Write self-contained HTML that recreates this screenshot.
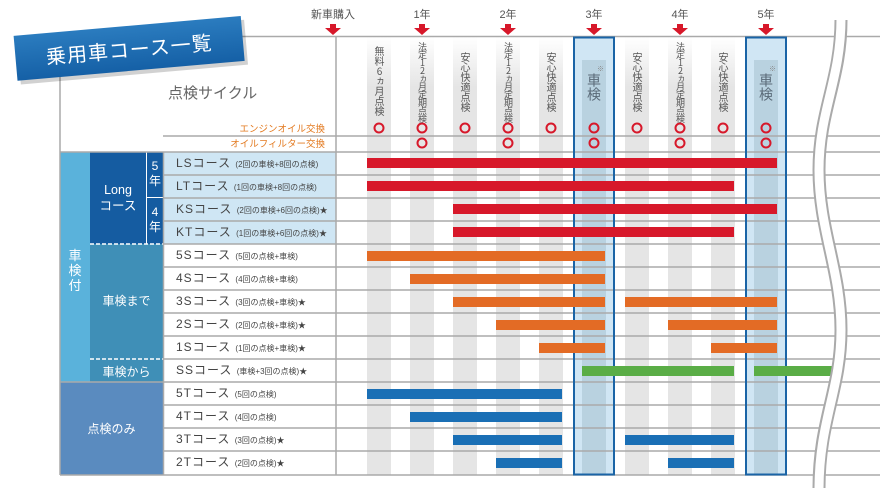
<!DOCTYPE html>
<html><head><meta charset="utf-8"><style>
*{margin:0;padding:0;box-sizing:border-box}
body{width:880px;height:488px;background:#fff;position:relative;overflow:hidden;font-family:"Liberation Sans","Noto Sans CJK JP",sans-serif;color:#555}
svg{position:absolute;left:0;top:0}
.a{position:absolute;white-space:nowrap}
.v{position:absolute;writing-mode:vertical-rl;text-orientation:upright;font-size:10px;color:#555;line-height:10px;font-family:"Noto Sans CJK JP",sans-serif}
.n{font-size:9px;letter-spacing:-1px}
.c{position:absolute;left:176px;font-size:12px;color:#444;line-height:23px;letter-spacing:1px}
.c small{font-size:8px;letter-spacing:0}
.w{position:absolute;color:#fff;text-align:center;font-size:11.5px}
</style></head><body>
<svg width="880" height="488">
<defs>
<linearGradient id="st" x1="0" y1="0" x2="0" y2="1"><stop offset="0" stop-color="#fff"/><stop offset="1" stop-color="#e5e5e5"/></linearGradient>
<linearGradient id="bn" x1="0" y1="0" x2="0" y2="1"><stop offset="0" stop-color="#2b7cbf"/><stop offset="1" stop-color="#1560a6"/></linearGradient>
</defs>
<rect x="164" y="152" width="172" height="92" fill="#cfe6f4"/>
<rect x="60" y="152" width="30" height="230" fill="#5ab2db"/>
<rect x="90" y="152" width="56" height="92" fill="#155ca1"/>
<rect x="147" y="152" width="16" height="45" fill="#155ca1"/>
<rect x="147" y="198" width="16" height="46" fill="#155ca1"/>
<rect x="90" y="244" width="73" height="138" fill="#3f8fb7"/>
<rect x="60" y="382" width="103" height="93" fill="#5a8bbf"/>
<line x1="90" y1="244" x2="163" y2="244" stroke="#fff" stroke-width="1.5" stroke-dasharray="4,2"/>
<line x1="90" y1="359" x2="163" y2="359" stroke="#fff" stroke-width="1.5" stroke-dasharray="4,2"/>
<g fill="url(#st)">
<rect x="367" y="37" width="24" height="50"/><rect x="410" y="37" width="24" height="50"/><rect x="453" y="37" width="24" height="50"/><rect x="496" y="37" width="24" height="50"/><rect x="539" y="37" width="24" height="50"/><rect x="625" y="37" width="24" height="50"/><rect x="668" y="37" width="24" height="50"/><rect x="711" y="37" width="24" height="50"/>
</g>
<g fill="#e5e5e5">
<rect x="367" y="87" width="24" height="388"/><rect x="410" y="87" width="24" height="388"/><rect x="453" y="87" width="24" height="388"/><rect x="496" y="87" width="24" height="388"/><rect x="539" y="87" width="24" height="388"/><rect x="625" y="87" width="24" height="388"/><rect x="668" y="87" width="24" height="388"/><rect x="711" y="87" width="24" height="388"/>
</g>
<rect x="574" y="37" width="40" height="438" fill="#d0e6f4"/>
<rect x="582" y="60" width="24" height="415" fill="#b9d2e0"/>
<rect x="746" y="37" width="40" height="438" fill="#d0e6f4"/>
<rect x="754" y="60" width="24" height="415" fill="#b9d2e0"/>
<g stroke="#aaa" stroke-width="1.5">
<line x1="60" y1="36.5" x2="880" y2="36.5"/>
<line x1="163" y1="136" x2="880" y2="136"/>
<line x1="60" y1="152" x2="880" y2="152"/>
<line x1="164" y1="175" x2="880" y2="175"/>
<line x1="164" y1="198" x2="880" y2="198"/>
<line x1="164" y1="221" x2="880" y2="221"/>
<line x1="164" y1="244" x2="880" y2="244"/>
<line x1="164" y1="267" x2="880" y2="267"/>
<line x1="164" y1="290" x2="880" y2="290"/>
<line x1="164" y1="313" x2="880" y2="313"/>
<line x1="164" y1="336" x2="880" y2="336"/>
<line x1="164" y1="359" x2="880" y2="359"/>
<line x1="60" y1="382" x2="880" y2="382"/>
<line x1="164" y1="405" x2="880" y2="405"/>
<line x1="164" y1="428" x2="880" y2="428"/>
<line x1="164" y1="451" x2="880" y2="451"/>
<line x1="60" y1="475" x2="880" y2="475"/>
<line x1="60" y1="36" x2="60" y2="475"/>
<line x1="336" y1="36" x2="336" y2="475"/>
<line x1="163.5" y1="152" x2="163.5" y2="475"/>
</g>
<rect x="574" y="37.5" width="40" height="437" fill="none" stroke="#1a64a6" stroke-width="2"/>
<rect x="746" y="37.5" width="40" height="437" fill="none" stroke="#1a64a6" stroke-width="2"/>
<g fill="none" stroke="#d7182a" stroke-width="2">
<circle cx="379" cy="128" r="4.5"/><circle cx="422" cy="128" r="4.5"/><circle cx="465" cy="128" r="4.5"/><circle cx="508" cy="128" r="4.5"/><circle cx="551" cy="128" r="4.5"/><circle cx="594" cy="128" r="4.5"/><circle cx="637" cy="128" r="4.5"/><circle cx="680" cy="128" r="4.5"/><circle cx="723" cy="128" r="4.5"/><circle cx="766" cy="128" r="4.5"/>
<circle cx="422" cy="143" r="4.5"/><circle cx="508" cy="143" r="4.5"/><circle cx="594" cy="143" r="4.5"/><circle cx="680" cy="143" r="4.5"/><circle cx="766" cy="143" r="4.5"/>
</g>
<g fill="#d7182a">
<path d="M330,24h6v4h5l-8,7l-8,-7h5z"/>
<path d="M419,24h6v4h5l-8,7l-8,-7h5z"/>
<path d="M505,24h6v4h5l-8,7l-8,-7h5z"/>
<path d="M591,24h6v4h5l-8,7l-8,-7h5z"/>
<path d="M677,24h6v4h5l-8,7l-8,-7h5z"/>
<path d="M763,24h6v4h5l-8,7l-8,-7h5z"/>
</g>
<g fill="#d7182a">
<rect x="367" y="158" width="410" height="10"/>
<rect x="367" y="181" width="367" height="10"/>
<rect x="453" y="204" width="324" height="10"/>
<rect x="453" y="227" width="281" height="10"/>
</g>
<g fill="#e36b25">
<rect x="367" y="251" width="238" height="10"/>
<rect x="410" y="274" width="195" height="10"/>
<rect x="453" y="297" width="152" height="10"/><rect x="625" y="297" width="152" height="10"/>
<rect x="496" y="320" width="109" height="10"/><rect x="668" y="320" width="109" height="10"/>
<rect x="539" y="343" width="66" height="10"/><rect x="711" y="343" width="66" height="10"/>
</g>
<g fill="#5aad46">
<rect x="582" y="366" width="152" height="10"/><rect x="754" y="366" width="78" height="10"/>
</g>
<g fill="#1a6fb5">
<rect x="367" y="389" width="195" height="10"/>
<rect x="410" y="412" width="152" height="10"/>
<rect x="453" y="435" width="109" height="10"/><rect x="625" y="435" width="109" height="10"/>
<rect x="496" y="458" width="66" height="10"/><rect x="668" y="458" width="66" height="10"/>
</g>
<path d="M841,20 C841,80 819,110 819,170 C819,230 841,270 841,330 C841,390 819,420 819,488" fill="none" stroke="#aaa" stroke-width="13"/>
<path d="M841,18 C841,80 819,110 819,170 C819,230 841,270 841,330 C841,390 819,420 819,490" fill="none" stroke="#fff" stroke-width="9"/>
<g transform="rotate(-5 128 47)">
<rect x="15" y="26" width="228" height="45" fill="#000" opacity="0.18" transform="translate(3,4)"/>
<rect x="15" y="26" width="228" height="45" fill="url(#bn)"/>
<text x="129" y="57" fill="#fff" font-size="20" text-anchor="middle" font-family="Liberation Sans,Noto Sans CJK JP,sans-serif" letter-spacing="1">乗用車コース一覧</text>
</g>
</svg>
<div class="a" style="left:308px;top:6px;font-size:11px;width:50px;text-align:center">新車購入</div>
<div class="a" style="left:407px;top:6px;font-size:11px;width:30px;text-align:center">1年</div>
<div class="a" style="left:493px;top:6px;font-size:11px;width:30px;text-align:center">2年</div>
<div class="a" style="left:579px;top:6px;font-size:11px;width:30px;text-align:center">3年</div>
<div class="a" style="left:665px;top:6px;font-size:11px;width:30px;text-align:center">4年</div>
<div class="a" style="left:751px;top:6px;font-size:11px;width:30px;text-align:center">5年</div>
<div class="a" style="left:168px;top:82px;font-size:15px;color:#666">点検サイクル</div>
<div class="a" style="left:200px;top:121px;width:125px;text-align:right;font-size:9.5px;color:#e37b22">エンジンオイル交換</div>
<div class="a" style="left:200px;top:136px;width:125px;text-align:right;font-size:9.5px;color:#e37b22">オイルフィルター交換</div>
<div class="v" style="left:374px;top:46px">無料6ヵ月点検</div>
<div class="v n" style="left:417px;top:42px">法定12ヵ月定期点検</div>
<div class="v" style="left:460px;top:52px">安心快適点検</div>
<div class="v n" style="left:503px;top:42px">法定12ヵ月定期点検</div>
<div class="v" style="left:546px;top:52px">安心快適点検</div>
<div class="v" style="left:632px;top:52px">安心快適点検</div>
<div class="v n" style="left:675px;top:42px">法定12ヵ月定期点検</div>
<div class="v" style="left:718px;top:52px">安心快適点検</div>
<div class="v" style="left:587px;top:73px;font-size:14px;line-height:14px;color:#5a6a78">車検</div>
<div class="v" style="left:759px;top:73px;font-size:14px;line-height:14px;color:#5a6a78">車検</div>
<div class="a" style="left:597px;top:64px;font-size:7px;color:#888">※</div>
<div class="a" style="left:769px;top:64px;font-size:7px;color:#888">※</div>
<div class="w" style="left:60px;top:248px;width:30px;font-size:13px;line-height:15px">車<br>検<br>付</div>
<div class="w" style="left:90px;top:182px;width:56px;font-size:12.5px;line-height:16px">Long<br>コース</div>
<div class="w" style="left:147px;top:159px;width:16px;font-size:12px;line-height:15px">5<br>年</div>
<div class="w" style="left:147px;top:205px;width:16px;font-size:12px;line-height:15px">4<br>年</div>
<div class="w" style="left:90px;top:292px;width:73px;font-size:12px">車検まで</div>
<div class="w" style="left:90px;top:363px;width:73px;font-size:12px">車検から</div>
<div class="w" style="left:60px;top:420px;width:103px;font-size:12px">点検のみ</div>
<div class="c" style="top:152px">LSコース <small>(2回の車検+8回の点検)</small></div>
<div class="c" style="top:175px">LTコース <small>(1回の車検+8回の点検)</small></div>
<div class="c" style="top:198px">KSコース <small>(2回の車検+6回の点検)★</small></div>
<div class="c" style="top:221px">KTコース <small>(1回の車検+6回の点検)★</small></div>
<div class="c" style="top:244px">5Sコース <small>(5回の点検+車検)</small></div>
<div class="c" style="top:267px">4Sコース <small>(4回の点検+車検)</small></div>
<div class="c" style="top:290px">3Sコース <small>(3回の点検+車検)★</small></div>
<div class="c" style="top:313px">2Sコース <small>(2回の点検+車検)★</small></div>
<div class="c" style="top:336px">1Sコース <small>(1回の点検+車検)★</small></div>
<div class="c" style="top:359px">SSコース <small>(車検+3回の点検)★</small></div>
<div class="c" style="top:382px">5Tコース <small>(5回の点検)</small></div>
<div class="c" style="top:405px">4Tコース <small>(4回の点検)</small></div>
<div class="c" style="top:428px">3Tコース <small>(3回の点検)★</small></div>
<div class="c" style="top:451px">2Tコース <small>(2回の点検)★</small></div>
</body></html>
